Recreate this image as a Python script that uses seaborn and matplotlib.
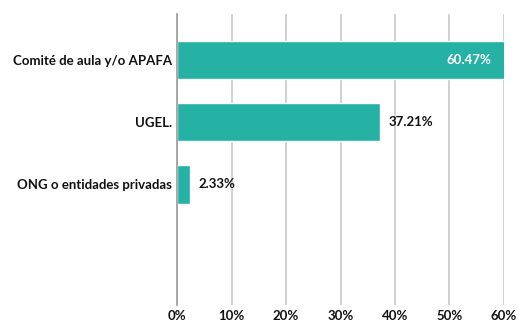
import matplotlib
matplotlib.use("Agg")
import matplotlib.pyplot as plt
import seaborn as sns
import pandas as pd

categories = ["Comité de aula y/o APAFA", "UGEL.", "ONG o entidades privadas"]
values = [60.47, 37.21, 2.33]
tick_values = [0, 10, 20, 30, 40, 50, 60]
tick_labels = ["0%", "10%", "20%", "30%", "40%", "50%", "60%"]

sns.set_theme(style="white")
plt.rcParams["font.family"] = ["Lato", "DejaVu Sans"]

df = pd.DataFrame({"cat": categories, "val": values})

fig = plt.figure(figsize=(5.18, 3.24), dpi=100)
ax = fig.add_axes([177 / 518, 1 - 305 / 324, 327 / 518, 291 / 324])

sns.barplot(data=df, y="cat", x="val", orient="h", color="#25B1A4",
            saturation=1, width=0.62, ax=ax)

ax.set_xlim(0, 60)
ax.set_ylim(3.94, -0.74)
ax.set_xticks(tick_values)
ax.set_xticklabels(tick_labels, fontsize=9.5, fontweight="bold", color="#111111")
ax.set_yticks(range(len(categories)))
ax.set_yticklabels(categories, fontsize=9.5, fontweight="bold", color="#111111")
ax.tick_params(axis="both", length=0)
ax.tick_params(axis="y", pad=3.5)
ax.tick_params(axis="x", pad=3.5)
ax.set_xlabel("")
ax.set_ylabel("")

ax.grid(axis="x", color="#c8c8c8", linewidth=1.2)
ax.set_axisbelow(True)
for side in ["top", "right", "bottom"]:
    ax.spines[side].set_visible(False)
ax.spines["left"].set_color("#999999")
ax.spines["left"].set_linewidth(1.2)

for i, v in enumerate(values):
    label = f"{v:.2f}%"
    if v > 50:
        ax.text(v - 2.7, i, label, ha="right", va="center", color="white",
                fontsize=9.5, fontweight="bold")
    else:
        ax.text(v + 1.6, i, label, ha="left", va="center", color="#111111",
                fontsize=9.5, fontweight="bold")

fig.savefig("out.png", dpi=100)
